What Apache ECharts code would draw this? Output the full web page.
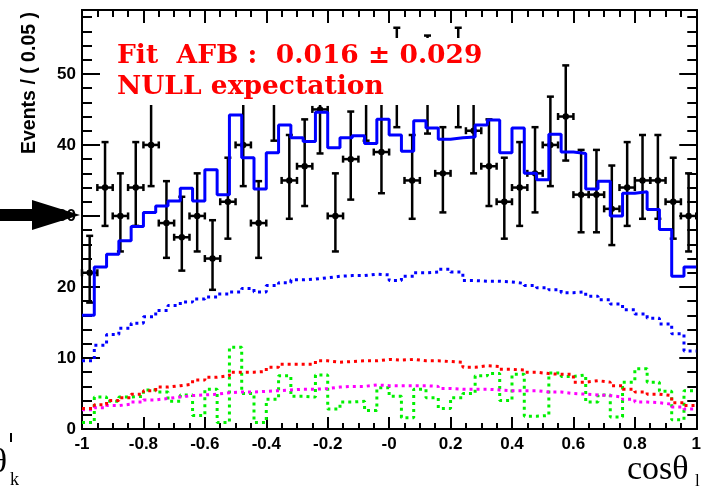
<!DOCTYPE html>
<html>
<head>
<meta charset="utf-8">
<script src="https://cdn.jsdelivr.net/npm/echarts@6/dist/echarts.min.js"></script>
<style>
  html, body { margin: 0; padding: 0; background: #fff; }
  #chart { width: 704px; height: 493px; }
</style>
</head>
<body>
<div id="chart"></div>
<script>
// data points, 40 bins of 0.05 in cos(theta_l)
const eventCounts = [22, 34, 30, 34, 40, 29, 27, 30, 24, 32, 40, 29, 47, 35, 37, 45, 30, 38, 47, 39,
  49, 35, 48, 36, 49, 42, 37, 32, 34, 36, 40, 44, 33, 33, 31, 34, 35, 35, 32, 30]
const errLow = [4.2, 5.4, 5.0, 5.4, 5.8, 4.9, 4.7, 5.0, 4.4, 5.2, 5.8, 4.9, 6.4, 5.4, 5.6, 6.2, 5.0, 5.7, 6.4, 5.8,
  6.5, 5.4, 6.4, 5.5, 6.5, 6.0, 5.6, 5.2, 5.4, 5.5, 5.8, 6.2, 5.3, 5.3, 5.1, 5.4, 5.4, 5.4, 5.2, 5.0]
const errHigh = [5.2, 6.4, 6.0, 6.4, 6.8, 5.9, 5.7, 6.0, 5.4, 6.2, 6.8, 5.9, 7.4, 6.4, 6.6, 7.2, 6.0, 6.7, 7.4, 6.8,
  7.5, 6.4, 7.4, 6.5, 7.5, 7.0, 6.6, 6.2, 6.4, 6.5, 6.8, 7.2, 6.3, 6.3, 6.1, 6.4, 6.4, 6.4, 6.2, 6.0]

// fit projections, 50 bins of 0.04
const totalFit = [16.0, 22.8, 24.6, 26.5, 28.5, 30.5, 31.4, 32.1, 33.9, 32.1, 36.5, 33.0, 44.2, 38.2, 33.8, 38.9,
  42.8, 41.0, 40.5, 44.6, 39.6, 41.0, 41.3, 40.2, 43.6, 41.4, 39.1, 43.4, 42.4, 40.8, 41.0, 41.1, 42.8, 43.5,
  38.9, 42.4, 36.0, 35.1, 41.5, 39.0, 38.8, 33.8, 34.9, 30.0, 33.2, 33.4, 30.9, 28.1, 21.5, 22.8]
const blueCurve = [9.6, 11.8, 13.3, 14.2, 14.9, 15.8, 16.7, 17.4, 17.9, 18.3, 18.6, 19.0, 19.3, 19.8, 19.3, 20.2,
  20.6, 21.0, 21.1, 21.3, 21.5, 21.6, 21.6, 21.8, 21.7, 20.9, 21.5, 22.0, 22.1, 22.5, 22.1, 20.9, 20.8, 20.8,
  20.7, 20.5, 20.2, 19.9, 19.6, 19.2, 19.3, 18.7, 18.2, 17.6, 16.8, 16.2, 15.6, 14.8, 13.4, 11.0]
const redCurve = [2.9, 3.4, 4.0, 4.4, 4.9, 5.4, 5.9, 6.1, 6.3, 6.9, 7.3, 7.5, 8.0, 8.0, 8.1, 8.7, 9.1, 9.1, 9.1,
  9.6, 9.4, 9.5, 9.6, 9.6, 9.8, 9.7, 9.8, 9.6, 9.6, 9.5, 9.4, 8.7, 8.9, 8.8, 8.4, 8.3, 8.0, 7.8, 7.7, 7.7, 6.6,
  6.8, 6.6, 6.1, 5.6, 5.2, 4.9, 4.7, 3.7, 3.3]
const magentaCurve = [2.7, 3.0, 3.3, 3.5, 3.8, 4.1, 4.3, 4.5, 4.7, 4.8, 4.9, 5.1, 5.2, 5.2, 5.3, 5.4, 5.5, 5.6,
  5.6, 5.7, 5.9, 6.0, 6.0, 6.2, 6.1, 6.1, 6.1, 6.1, 6.0, 5.7, 5.6, 5.6, 5.6, 5.5, 5.4, 5.4, 5.4, 5.2, 5.2, 5.0,
  4.9, 4.8, 4.7, 4.5, 4.2, 3.8, 3.7, 3.5, 3.1, 2.8]
const greenCurve = [0.9, 4.5, 3.9, 4.5, 4.6, 5.5, 5.2, 3.9, 4.8, 1.9, 5.6, 0.9, 11.5, 5.0, 0.9, 4.2, 7.5, 4.6,
  4.5, 7.6, 2.8, 3.8, 3.9, 2.6, 5.8, 4.6, 1.6, 5.6, 4.4, 2.9, 4.4, 5.0, 7.5, 7.8, 4.0, 7.7, 1.8, 1.9, 7.9, 7.4,
  7.6, 3.8, 4.8, 1.7, 6.6, 8.5, 6.6, 5.3, 1.3, 5.4]

const xTickLabels = ['-1', '-0.8', '-0.6', '-0.4', '-0.2', '-0', '0.2', '0.4', '0.6', '0.8', '1']
const yTickLabels = ['0', '10', '20', '30', '40', '50']

const chart = echarts.init(document.getElementById('chart'))

// histogram-like step line: one point per left bin edge plus the right end
function stepData(vals) {
  const w = 2 / vals.length
  const pts = vals.map((v, i) => [-1 + i * w, v])
  pts.push([1, vals[vals.length - 1]])
  return pts
}

const pointData = eventCounts.map((n, i) => [-0.975 + i * 0.05, n, errLow[i], errHigh[i]])

function renderPoint(params, api) {
  const x = api.value(0)
  const y = api.value(1)
  const c = api.coord([x, y])
  const lo = api.coord([x, y - api.value(2)])
  const hi = api.coord([x, y + api.value(3)])
  const hw = api.size([0.025, 0])[0]
  const st = { stroke: '#000', lineWidth: 2.5 }
  const ln = (x1, y1, x2, y2) => ({ type: 'line', shape: { x1, y1, x2, y2 }, style: st })
  return {
    type: 'group',
    children: [
      ln(c[0], hi[1], c[0], lo[1]),
      ln(c[0] - hw, c[1], c[0] + hw, c[1]),
      ln(c[0] - 3.5, hi[1], c[0] + 3.5, hi[1]),
      ln(c[0] - 3.5, lo[1], c[0] + 3.5, lo[1]),
      ln(c[0] - hw, c[1] - 3.5, c[0] - hw, c[1] + 3.5),
      ln(c[0] + hw, c[1] - 3.5, c[0] + hw, c[1] + 3.5),
      { type: 'circle', shape: { cx: c[0], cy: c[1], r: 3.2 }, style: { fill: '#000' } },
    ],
  }
}

const black = { color: '#000', width: 2 }
const labelFont = { fontFamily: 'Liberation Sans', fontWeight: 'bold', fontSize: 17, color: '#000' }

function xAxisCfg(pos, len, minorLen, showLabel) {
  return {
    type: 'value', min: -1, max: 1, interval: 0.2, position: pos,
    axisLine: { onZero: false, lineStyle: black },
    axisTick: { inside: true, length: len, lineStyle: black },
    minorTick: { show: true, splitNumber: 4, length: minorLen, lineStyle: black },
    splitLine: { show: false },
    axisLabel: {
      show: showLabel, margin: 7, ...labelFont,
      formatter: v => xTickLabels[Math.round((v + 1) / 0.2)],
    },
  }
}

function yAxisCfg(pos, interval, len, showLabel) {
  return {
    type: 'value', min: 0, max: 59, interval, position: pos,
    axisLine: { onZero: false, lineStyle: black },
    axisTick: { inside: true, length: len, lineStyle: black },
    splitLine: { show: false },
    axisLabel: {
      show: showLabel, margin: 6, showMaxLabel: false, ...labelFont,
      formatter: v => yTickLabels[Math.round(v / 10)],
    },
  }
}

function stepSeries(vals, color, type, width, z) {
  return {
    type: 'line', step: 'end', symbol: 'none', silent: true, z,
    data: stepData(vals),
    lineStyle: { color, width, type },
  }
}

const option = {
  animation: false,
  grid: { left: 82, right: 2, top: 10, bottom: 64 },
  xAxis: [xAxisCfg('bottom', 12, 6, true), xAxisCfg('top', 13, 7, false)],
  yAxis: [
    yAxisCfg('left', 10, 18, true),
    yAxisCfg('left', 2, 10, false),
    yAxisCfg('right', 10, 17, false),
    yAxisCfg('right', 2, 9, false),
  ],
  series: [
    {
      type: 'custom', renderItem: renderPoint, data: pointData, z: 2,
      encode: { x: 0, y: 1 },
    },
    stepSeries(greenCurve, '#00f000', [3, 4], 3, 3),
    stepSeries(magentaCurve, '#ff00ff', [3, 4], 3, 3),
    stepSeries(redCurve, '#ff0000', [3, 4], 3, 3),
    stepSeries(blueCurve, '#0000ff', [3, 4], 3, 3),
    stepSeries(totalFit, '#0000ff', 'solid', 3, 4),
  ],
  graphic: [
    { type: 'rect', shape: { x: 113, y: 38, width: 380, height: 67 }, style: { fill: '#fff' }, z: 100 },
    {
      type: 'text', x: 117, y: 56, z: 101,
      style: { text: 'Fit  AFB :  0.016 ± 0.029', fill: '#ff0000', font: 'bold 26.5px "DejaVu Serif"', verticalAlign: 'middle' },
    },
    {
      type: 'text', x: 117, y: 87, z: 101,
      style: { text: 'NULL expectation', fill: '#ff0000', font: 'bold 26.5px "DejaVu Serif"', verticalAlign: 'middle' },
    },
    {
      type: 'text', x: 30, y: 83, rotation: Math.PI / 2, z: 101,
      style: { text: 'Events / ( 0.05 )', fill: '#000', font: 'bold 19.5px "Liberation Sans"', align: 'center', verticalAlign: 'middle' },
    },
    {
      type: 'polygon', z: 110,
      shape: { points: [[0, 209], [32, 209], [32, 200], [80, 215], [32, 230], [32, 221], [0, 221]] },
      style: { fill: '#000' },
    },
    {
      type: 'text', x: 627, y: 470, z: 101,
      style: { text: 'cosθ', fill: '#000', font: '34px "Liberation Serif"', verticalAlign: 'middle' },
    },
    {
      type: 'text', x: 695, y: 482, z: 101,
      style: { text: 'l', fill: '#000', font: '17px "Liberation Serif"', verticalAlign: 'middle' },
    },
    {
      type: 'text', x: -1, y: 463, z: 101,
      style: { text: 'θ', fill: '#000', font: '34px "Liberation Serif"', align: 'center', verticalAlign: 'middle' },
    },
    {
      type: 'text', x: 10, y: 480, z: 101,
      style: { text: 'k', fill: '#000', font: '18px "Liberation Serif"', verticalAlign: 'middle' },
    },
    { type: 'rect', shape: { x: 10, y: 433, width: 2, height: 9 }, style: { fill: '#000' }, z: 101 },
  ],
}

option && chart.setOption(option)
</script>
</body>
</html>
